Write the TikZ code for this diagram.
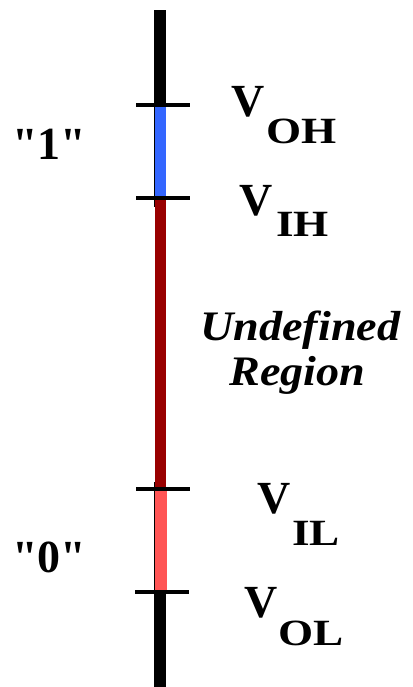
\documentclass[tikz,border=0pt]{standalone}
\usepackage{fontspec}
\usepackage{graphicx}
\setmainfont{Liberation Serif}
\newfontfamily\plainserif{Liberation Serif}
\definecolor{oneblue}{HTML}{3366FF}
\definecolor{undefred}{HTML}{990000}
\definecolor{zerored}{HTML}{FF5555}
\tikzset{
  lbl/.style={inner sep=0pt, anchor=base west, font=\bfseries\fontsize{46}{50}\selectfont},
  qlbl/.style={inner sep=0pt, anchor=base west, font=\plainserif\bfseries\fontsize{46}{50}\selectfont},
  sublbl/.style={inner sep=0pt, anchor=base west},
  tick/.style={line width=4pt},
}
\newcommand{\subtxt}[1]{\scalebox{1.22}[1]{\bfseries\fontsize{37}{40}\selectfont #1}}
\begin{document}
\begin{tikzpicture}[x=1pt,y=-1pt]
\useasboundingbox (0,0) rectangle (412,687);
% bar segments
\fill[black] (154,10) rectangle (166,106);
\fill[black] (154,590) rectangle (166,687);
\fill[black] (154,104) rectangle (155,207);
\fill[black] (154,482) rectangle (155,592);
\fill[oneblue] (155,105) rectangle (166,198);
\fill[undefred] (155,198) rectangle (166,489);
\fill[zerored] (155,489) rectangle (167,592);
% ticks
\coordinate (t1l) at (136,105); \coordinate (t1r) at (190,105);
\coordinate (t2l) at (136,198); \coordinate (t2r) at (190,198);
\coordinate (t3l) at (136,489); \coordinate (t3r) at (190,489);
\coordinate (t4l) at (135,592); \coordinate (t4r) at (189,592);
\draw[tick] (t1l) -- (t1r);
\draw[tick] (t2l) -- (t2r);
\draw[tick] (t3l) -- (t3r);
\draw[tick] (t4l) -- (t4r);
% labels
\node[lbl] (voh) at (231,117) {V};
\node[sublbl] (voh2) at (266,144) {\subtxt{OH}};
\node[lbl] (vih) at (239,215) {V};
\node[sublbl] (vih2) at (276,236) {\subtxt{IH}};
\node[lbl] (vil) at (257,513) {V};
\node[sublbl] (vil2) at (292,545) {\subtxt{IL}};
\node[lbl] (vol) at (244,617) {V};
\node[sublbl] (vol2) at (278,645) {\subtxt{OL}};
\node[sublbl] (und) at (200,340) {\scalebox{1.1}[1]{\bfseries\itshape\fontsize{42}{46}\selectfont Undefined}};
\node[sublbl] (reg) at (229,385) {\scalebox{1.1}[1]{\bfseries\itshape\fontsize{42}{46}\selectfont Region}};
\node[qlbl] (one) at (12,160) {"1"};
\node[qlbl] (zero) at (12,572) {"0"};
\end{tikzpicture}
\end{document}
